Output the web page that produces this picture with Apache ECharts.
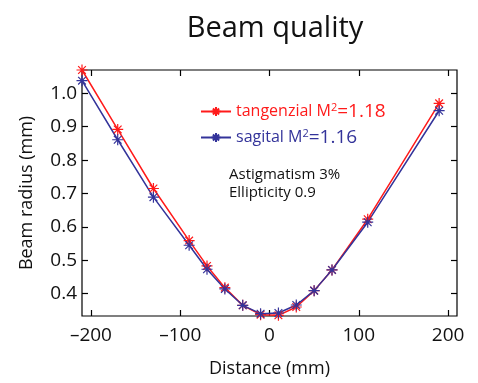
<!DOCTYPE html>
<html><head><meta charset="utf-8">
<script src="https://cdn.jsdelivr.net/npm/echarts@6/dist/echarts.min.js"></script>
<style>html,body{margin:0;padding:0;background:#fff}#c{width:478px;height:383px}</style>
</head><body><div id="c"></div>
<script>
const distance = [-210,-170,-130,-90,-70,-50,-30,-10,10,30,50,70,110,190];
const tangential = [1.07,0.892,0.715,0.559,0.483,0.418,0.365,0.337,0.335,0.360,0.409,0.471,0.623,0.970];
const sagital = [1.038,0.861,0.689,0.545,0.473,0.414,0.365,0.340,0.342,0.366,0.409,0.471,0.614,0.948];
const xTicks = [-200,-100,0,100,200];
const yTicks = [0.4,0.5,0.6,0.7,0.8,0.9,1.0];
const seriesNames = ['tangenzial', 'sagital'];
const m2 = {'tangenzial':'1.18','sagital':'1.16'};
const colors = {'tangenzial':'#ff1a1a','sagital':'#33339a'};

const FONT = 'Open Sans';
const star = 'path://M0,5 L10,5 M5,0 L5,10 M1.5,1.5 L8.5,8.5 M1.5,8.5 L8.5,1.5';
const chart = echarts.init(document.getElementById('c'));
const xMin=-210,xMax=210,yMin=0.333,yMax=1.07;
const fmtDash = v => String(v).replace('-', '\u2013');
function mkSeries(name, vals){
  const color = colors[name];
  return {
    name, type:'line', data: distance.map((d,i)=>[d, vals[i]]),
    clip:false, symbol: star, symbolSize: 11,
    lineStyle:{color, width:1.5},
    itemStyle:{color:'none', borderColor:color, borderWidth:1.2},
    emphasis:{disabled:true}, animation:false
  };
}
function ticks(vals){ return {show:true, inside:true, length:6, customValues:vals, lineStyle:{color:'#000', width:1.2}}; }
chart.setOption({
  animation:false,
  title:{text:'Beam quality', left:270, top:9, textAlign:'center',
    textStyle:{fontFamily:FONT, fontSize:29, fontWeight:'normal', color:'#111'}},
  grid:{left:82, right:21, top:70, bottom:60, show:true, borderColor:'#000', borderWidth:1.2, backgroundColor:'transparent'},
  legend:{orient:'vertical', left:195, top:97, itemWidth:30, itemHeight:11, itemGap:7,
    data: seriesNames.map(n => ({name:n, textStyle:{color:colors[n], rich:{
        t:{fontFamily:FONT, fontSize:16, color:colors[n]},
        s:{fontFamily:FONT, fontSize:11, verticalAlign:'top', color:colors[n], padding:[0,0,8,0]},
        v:{fontFamily:FONT, fontSize:19, color:colors[n]}
      }}})),
    formatter: n => '{t|'+n+' M}{s|2}{v|='+m2[n]+'}'
  },
  xAxis:[{type:'value', min:xMin, max:xMax, position:'bottom',
    name:'Distance (mm)', nameLocation:'middle', nameGap:44,
    nameTextStyle:{fontFamily:FONT, fontSize:18, color:'#111'},
    axisLine:{show:false, onZero:false}, splitLine:{show:false},
    axisTick:ticks(xTicks),
    axisLabel:{customValues:xTicks, formatter:fmtDash, fontFamily:FONT, fontSize:19, color:'#111', margin:10}},
   {type:'value', min:xMin, max:xMax, position:'top', show:true,
    axisLine:{show:false, onZero:false}, splitLine:{show:false},
    axisTick:ticks(xTicks),
    axisLabel:{show:false, customValues:xTicks}}],
  yAxis:[{type:'value', min:yMin, max:yMax, position:'left',
    name:'Beam radius (mm)', nameLocation:'middle', nameGap:46,
    nameTextStyle:{fontFamily:FONT, fontSize:18, color:'#111'},
    axisLine:{show:false, onZero:false}, splitLine:{show:false},
    axisTick:ticks(yTicks),
    axisLabel:{customValues:yTicks, formatter:v=>v.toFixed(1), fontFamily:FONT, fontSize:19, color:'#111', margin:5}},
   {type:'value', min:yMin, max:yMax, position:'right', show:true,
    axisLine:{show:false, onZero:false}, splitLine:{show:false},
    axisTick:ticks(yTicks),
    axisLabel:{show:false, customValues:yTicks}}],
  graphic:[{type:'text', left:229, top:166, style:{text:'Astigmatism 3%\nEllipticity 0.9', fontFamily:FONT, fontSize:15, lineHeight:18, fill:'#111'}}],
  series:[mkSeries('tangenzial', tangential), mkSeries('sagital', sagital)]
});
</script></body></html>
